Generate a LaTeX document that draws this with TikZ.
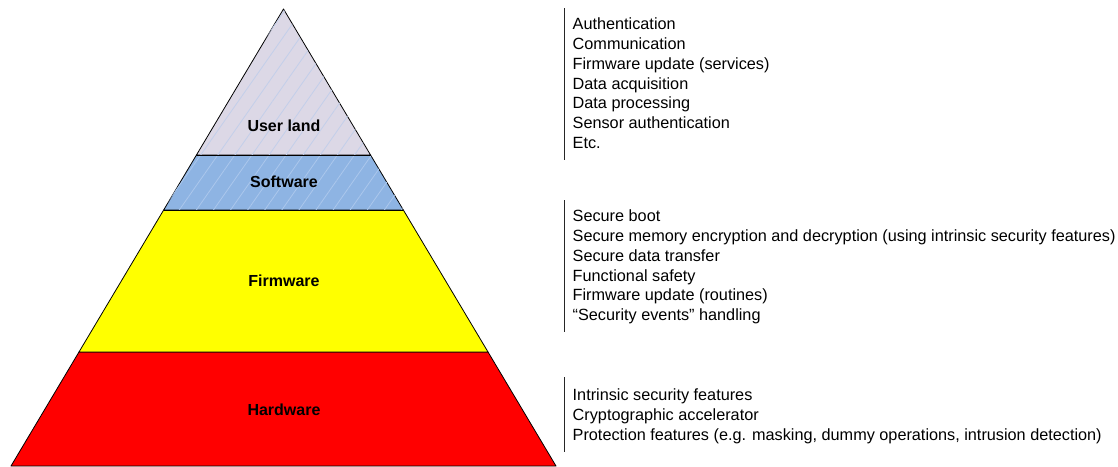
\documentclass[tikz,border=0pt]{standalone}
\usepackage{fontspec}
\setmainfont{Liberation Sans}
\usetikzlibrary{patterns.meta,calc}
\definecolor{ulfill}{HTML}{DCD8E6}
\definecolor{ulhatch}{HTML}{C3CFEA}
\definecolor{swfill}{HTML}{8EB4E3}
\definecolor{swhatch}{HTML}{ABC7EC}
\definecolor{fwfill}{HTML}{FFFF00}
\definecolor{hwfill}{HTML}{FF0000}
\begin{document}
\begin{tikzpicture}[x=1pt,y=-1pt,
  layer/.style={draw=black, line width=0.8pt, line join=round},
  lab/.style={font=\fontsize{16}{19}\selectfont\bfseries, inner sep=0pt},
  list/.style={font=\fontsize{16.25}{19.7}\selectfont, align=left, anchor=north west, inner sep=0pt},
  bar/.style={line width=1pt, draw=black!85}]
\useasboundingbox (0,0) rectangle (1118,466);
\coordinate (A) at (283.5,9);
\coordinate (BL) at (11,466);
\coordinate (BR) at (556,466);
\coordinate (uL) at ($(A)!0.3195!(BL)$);
\coordinate (uR) at ($(A)!0.3195!(BR)$);
\coordinate (sL) at ($(A)!0.4398!(BL)$);
\coordinate (sR) at ($(A)!0.4398!(BR)$);
\coordinate (fL) at ($(A)!0.7505!(BL)$);
\coordinate (fR) at ($(A)!0.7505!(BR)$);
% layers
\path[layer, preaction={fill=hwfill}] (fL) -- (fR) -- (BR) -- (BL) -- cycle;
\path[layer, preaction={fill=fwfill}] (sL) -- (sR) -- (fR) -- (fL) -- cycle;
\path[layer, preaction={fill=swfill}, postaction={pattern={Lines[angle=55,distance=14pt,line width=0.8pt]}, pattern color=swhatch}] (uL) -- (uR) -- (sR) -- (sL) -- cycle;
\path[layer, preaction={fill=ulfill}, postaction={pattern={Lines[angle=55,distance=14pt,line width=0.8pt]}, pattern color=ulhatch}] (A) -- (uR) -- (uL) -- cycle;
\draw[layer] (uL) -- (uR) (sL) -- (sR);
% labels
\node[lab] (ul) at (284,126) {User land};
\node[lab] (sw) at (284,182) {Software};
\node[lab] (fw) at (284,281) {Firmware};
\node[lab] (hw) at (284,410) {Hardware};
% bars
\coordinate (b1t) at (564,8);   \coordinate (b1b) at (564,160);
\coordinate (b2t) at (564,200); \coordinate (b2b) at (564,332);
\coordinate (b3t) at (564,377); \coordinate (b3b) at (564,452);
\draw[bar] (b1t) -- (b1b);
\draw[bar] (b2t) -- (b2b);
\draw[bar] (b3t) -- (b3b);
% lists
\node[list] (l1) at (572.5,18) {Authentication\\Communication\\Firmware update (services)\\Data acquisition\\Data processing\\Sensor authentication\\Etc.};
\node[list] (l2) at (572.5,210) {Secure boot\\Secure memory encryption and decryption (using intrinsic security features)\\Secure data transfer\\Functional safety\\Firmware update (routines)\\“Security events” handling};
\node[list] (l3) at (572.5,389) {Intrinsic security features\\Cryptographic accelerator\\Protection features (e.g. masking, dummy operations, intrusion detection)};
\end{tikzpicture}
\end{document}
